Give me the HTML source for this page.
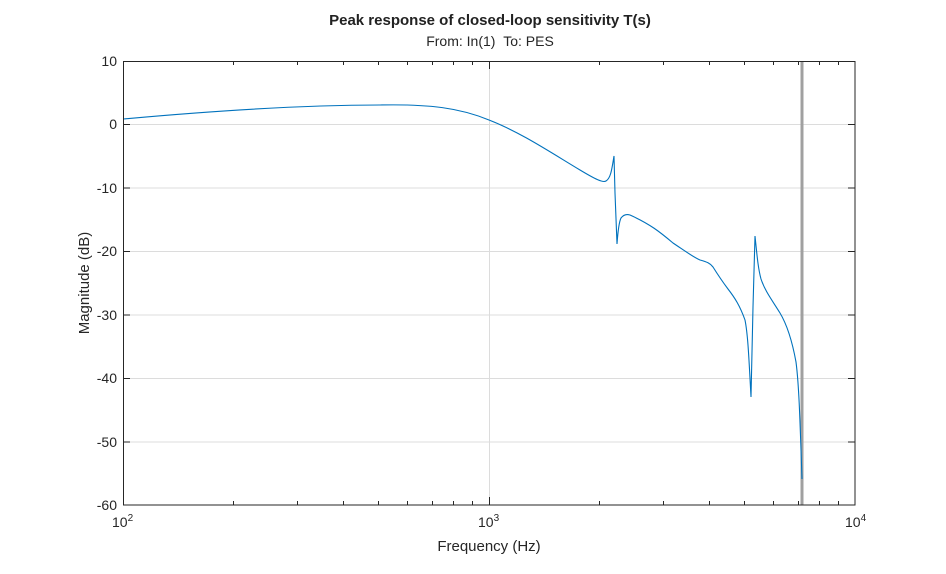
<!DOCTYPE html>
<html><head><meta charset="utf-8"><style>
body{margin:0;background:#fff;}
svg text{font-family:"Liberation Sans",sans-serif;fill:#262626;}
</style></head><body>
<svg width="946" height="569" viewBox="0 0 946 569" xmlns="http://www.w3.org/2000/svg">
<rect width="946" height="569" fill="#fff"/>
<rect x="123" y="61" width="732" height="444" fill="#fff"/>
<g stroke="#dcdcdc" stroke-width="1">
<line x1="489.5" y1="61" x2="489.5" y2="505"/>
<line x1="123" y1="124.5" x2="855" y2="124.5"/>
<line x1="123" y1="188" x2="855" y2="188"/>
<line x1="123" y1="251.5" x2="855" y2="251.5"/>
<line x1="123" y1="315" x2="855" y2="315"/>
<line x1="123" y1="378.5" x2="855" y2="378.5"/>
<line x1="123" y1="442" x2="855" y2="442"/>
</g>
<line x1="802" y1="61" x2="802" y2="505" stroke="#a0a0a0" stroke-width="3"/>
<path fill="none" stroke="#0072bd" stroke-width="1.1" d="M123,119 C200,112 300,105 380,105 C430,104 460,108 489,120 C520,132 550,152 580,170 C595,179 603,183 606,181 C611,178 612,168 614,156 L615,193 L617,244 C618,230 619,222 621,218 C624,214 627,214 630,215 C650,224 660,232 673,243 C685,251 693,257 700,260 C707,262 710,263 713,267 C718,275 722,281 728,289 C735,298 740,306 745,320 C748,335 749,360 751,397 L753,307 L755,236 C757,255 758,268 761,279 C765,291 772,300 780,313 C786,323 792,340 796,362 C799,385 800,420 802,479"/>
<g stroke="#262626" stroke-width="1" fill="none">
<rect x="123.5" y="61.5" width="731.5" height="443.5"/>
</g>
<g stroke="#262626" stroke-width="1">
<line x1="123" y1="61.5" x2="130" y2="61.5"/><line x1="848" y1="61.5" x2="855" y2="61.5"/>
<line x1="123" y1="124.5" x2="130" y2="124.5"/><line x1="848" y1="124.5" x2="855" y2="124.5"/>
<line x1="123" y1="188" x2="130" y2="188"/><line x1="848" y1="188" x2="855" y2="188"/>
<line x1="123" y1="251.5" x2="130" y2="251.5"/><line x1="848" y1="251.5" x2="855" y2="251.5"/>
<line x1="123" y1="315" x2="130" y2="315"/><line x1="848" y1="315" x2="855" y2="315"/>
<line x1="123" y1="378.5" x2="130" y2="378.5"/><line x1="848" y1="378.5" x2="855" y2="378.5"/>
<line x1="123" y1="442" x2="130" y2="442"/><line x1="848" y1="442" x2="855" y2="442"/>
<line x1="489.5" y1="505" x2="489.5" y2="497"/><line x1="489.5" y1="61" x2="489.5" y2="69"/>
</g>
<g stroke="#262626" stroke-width="1">
<path d="M233.5,505v-4M297.5,505v-4M343.5,505v-4M378.5,505v-4M407.5,505v-4M432.5,505v-4M453.5,505v-4M472.5,505v-4M599.5,505v-4M663.5,505v-4M709.5,505v-4M744.5,505v-4M773.5,505v-4M798.5,505v-4M819.5,505v-4M838.5,505v-4"/>
<path d="M233.5,61v4M297.5,61v4M343.5,61v4M378.5,61v4M407.5,61v4M432.5,61v4M453.5,61v4M472.5,61v4M599.5,61v4M663.5,61v4M709.5,61v4M744.5,61v4M773.5,61v4M798.5,61v4M819.5,61v4M838.5,61v4"/>
</g>
<g font-size="14" text-anchor="end">
<text x="117" y="66">10</text>
<text x="117" y="129">0</text>
<text x="117" y="193">-10</text>
<text x="117" y="256">-20</text>
<text x="117" y="320">-30</text>
<text x="117" y="383">-40</text>
<text x="117" y="447">-50</text>
<text x="117" y="510">-60</text>
</g>
<g font-size="14">
<text x="112" y="527">10<tspan font-size="10" dy="-6">2</tspan></text>
<text x="478" y="527">10<tspan font-size="10" dy="-6">3</tspan></text>
<text x="845" y="527">10<tspan font-size="10" dy="-6">4</tspan></text>
</g>
<text x="489" y="551" font-size="15" text-anchor="middle">Frequency (Hz)</text>
<text transform="translate(89,283) rotate(-90)" font-size="15" text-anchor="middle">Magnitude (dB)</text>
<text x="490" y="25" font-size="15" font-weight="bold" text-anchor="middle" style="fill:#222">Peak response of closed-loop sensitivity T(s)</text>
<text x="490" y="46" font-size="14" text-anchor="middle">From: In(1)&#160;&#160;To: PES</text>
</svg>
</body></html>
